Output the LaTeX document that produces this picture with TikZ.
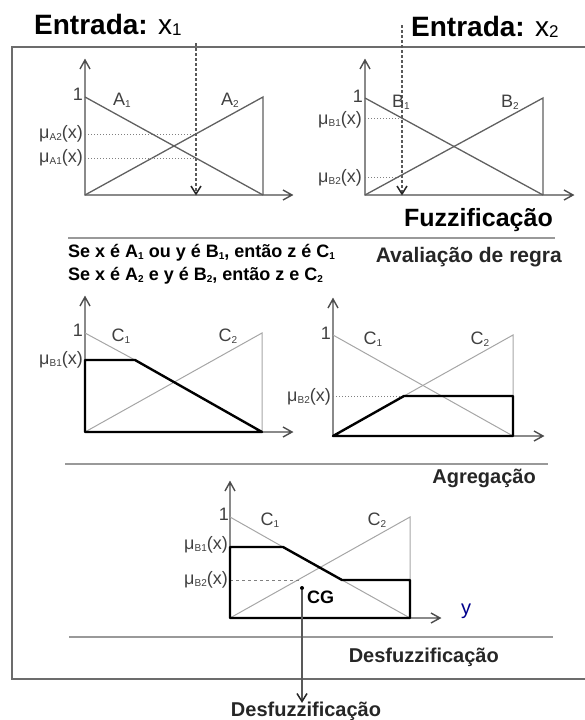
\documentclass[tikz,border=0pt]{standalone}
\usepackage{fontspec}
\setmainfont{Liberation Sans}
\usetikzlibrary{arrows.meta}
\newcommand{\subx}[1]{\raisebox{-0.2ex}{\fontsize{10}{10}\selectfont #1}}
\newcommand{\mux}[1]{μ\subx{#1}(x)}
% axes with open v-shaped tips: origin, top, right end
\newcommand{\axes}[3]{\draw[axis] #2 -- #1 -- #3
  #2 ++(-5,9) -- #2 -- ++(5,9)
  #3 ++(-9,-5) -- #3 -- ++(-9,5);}
\newcommand{\tipdown}[1]{\draw[tipline] #1 ++(-5,-8) -- #1 -- ++(5,-8);}

\begin{document}
\begin{tikzpicture}[x=1pt,y=-1pt,
  every node/.style={inner sep=0pt},
  tipline/.style={draw=black!85,line width=1.5pt,line join=miter},
  frame/.style={draw=gray!85!black,line width=1.6pt},
  sep/.style={draw=gray!80,line width=1.4pt},
  axis/.style={draw=gray!60!black,line width=1.4pt,line join=miter},
  mf/.style={draw=gray!75!black,line width=1.3pt},
  mfl/.style={draw=gray!70,line width=1pt},
  cut/.style={draw=black,line width=2.4pt,line join=round},
  guide/.style={draw=gray,dotted,line width=1pt},
  probe/.style={draw=gray!70!black,densely dashed,line width=1.2pt},
  lbl/.style={font=\fontsize{18}{18}\selectfont,text=black!75},
  head/.style={font=\fontsize{28}{28}\selectfont\bfseries},
  stage/.style={font=\fontsize{20}{20}\selectfont\bfseries,text=black!85},
  rule/.style={font=\fontsize{18}{18}\selectfont\bfseries,anchor=west}]
\useasboundingbox (0,0) rectangle (584,720);

% frame and separators
\draw[frame] (590,47) -- (12,47) -- (12,679) -- (590,679);
\draw[sep] (68,238) -- (555,238);
\draw[sep] (65,464) -- (548,464);
\draw[sep] (69,637) -- (553,637);

% titles
\node[head,anchor=west] (in1) at (34,25) {Entrada: {\mdseries x\raisebox{-0.1ex}{\fontsize{17}{17}\selectfont 1}}};
\node[head,anchor=west] (in2) at (411,27) {Entrada: {\mdseries x\raisebox{-0.1ex}{\fontsize{17}{17}\selectfont 2}}};
\node[font=\fontsize{25}{25}\selectfont\bfseries,anchor=east] (fuzz) at (553,220) {Fuzzificação};
\node[stage,font=\fontsize{21}{21}\selectfont\bfseries,anchor=east] (aval) at (562,257) {Avaliação de regra};
\node[stage,anchor=east] (agreg) at (536,478) {Agregação};
\node[stage,anchor=east] (defz) at (499,657) {Desfuzzificação};
\node[rule] (r1) at (68,253) {Se x é A\subx{1} ou y é B\subx{1}, então z é C\subx{1}};
\node[rule] (r2) at (68,276) {Se x é A\subx{2} e y é B\subx{2}, então z e C\subx{2}};

% input x1
\axes{(85,195)}{(85,60)}{(292,195)}
\draw[mf] (85,97) -- (263,195);
\draw[mf] (85,195) -- (263,97) -- (263,195);
\draw[guide] (85,134) -- (196,134);
\draw[guide] (85,158) -- (196,158);
\draw[probe] (196,43) -- (196,194);
\tipdown{(196,194)}
\node[lbl,anchor=east] (one1) at (83,94) {1};
\node[lbl] (a1) at (122,100) {A\subx{1}};
\node[lbl] (a2) at (230,100) {A\subx{2}};
\node[lbl,anchor=east] (ma2) at (83,134) {\mux{A2}};
\node[lbl,anchor=east] (ma1) at (83,158) {\mux{A1}};

% input x2
\axes{(365,195)}{(365,60)}{(573,195)}
\draw[mf] (365,98) -- (543,195);
\draw[mf] (365,195) -- (543,98) -- (543,195);
\draw[guide] (365,118) -- (402,118);
\draw[guide] (365,177) -- (402,177);
\draw[probe] (402,25) -- (402,194);
\tipdown{(402,194)}
\node[lbl,anchor=east] (one2) at (363,96) {1};
\node[lbl] (b1) at (401,102) {B\subx{1}};
\node[lbl] (b2) at (510,102) {B\subx{2}};
\node[lbl,anchor=east] (mb1) at (362,120) {\mux{B1}};
\node[lbl,anchor=east] (mb2) at (362,178) {\mux{B2}};

% rule 1
\axes{(85,432)}{(85,297)}{(292,432)}
\draw[mfl] (85,333) -- (135,360);
\draw[mfl] (85,432) -- (262,333) -- (262,432);
\draw[cut] (85,432) -- (85,360) -- (135,360) -- (262,432) -- cycle;
\node[lbl,anchor=east] (one3) at (83,330) {1};
\node[lbl] (c1a) at (121,336) {C\subx{1}};
\node[lbl] (c2a) at (228,336) {C\subx{2}};
\node[lbl,anchor=east] (mc1) at (83,360) {\mux{B1}};

% rule 2
\axes{(333,436)}{(333,299)}{(543,436)}
\draw[mfl] (333,335) -- (513,436);
\draw[mfl] (404,396) -- (513,335) -- (513,396);
\draw[guide] (333,396) -- (404,396);
\draw[cut] (333,436) -- (404,396) -- (513,396) -- (513,436) -- cycle;
\node[lbl,anchor=east] (one4) at (331,333) {1};
\node[lbl] (c1b) at (373,339) {C\subx{1}};
\node[lbl] (c2b) at (480,339) {C\subx{2}};
\node[lbl,anchor=east] (mc2) at (331,397) {\mux{B2}};

% aggregation
\axes{(230,618)}{(230,482)}{(440,618)}
\draw[mfl] (230,517) -- (283,547);
\draw[mfl] (342,580) -- (410,618);
\draw[mfl] (230,618) -- (410,517) -- (410,580);
\draw[guide,dashed] (230,580) -- (300,580);
\draw[cut] (230,618) -- (230,547) -- (283,547) -- (342,580) -- (410,580) -- (410,618) -- cycle;
\node[lbl,anchor=east] (one5) at (229,514) {1};
\node[lbl] (c1c) at (270,520) {C\subx{1}};
\node[lbl] (c2c) at (377,520) {C\subx{2}};
\node[lbl,anchor=east] (mc3) at (228,545) {\mux{B1}};
\node[lbl,anchor=east] (mc4) at (228,580) {\mux{B2}};
\node[lbl,text=blue!55!black,font=\fontsize{20}{20}\selectfont] (yv) at (466,611) {y};

% centre of gravity
\node[circle,fill=black,minimum size=4pt] (cg) at (302,588) {};
\node[font=\fontsize{18}{18}\selectfont\bfseries,anchor=west] (cgl) at (307,597) {CG};
\node[stage] (out) at (306,711) {Desfuzzificação};
\coordinate (cgend) at (out.north -| cg);
\draw[draw=gray!70!black,line width=1.1pt] (cg) -- (cgend);
\tipdown{(cgend)}
\end{tikzpicture}
\end{document}
